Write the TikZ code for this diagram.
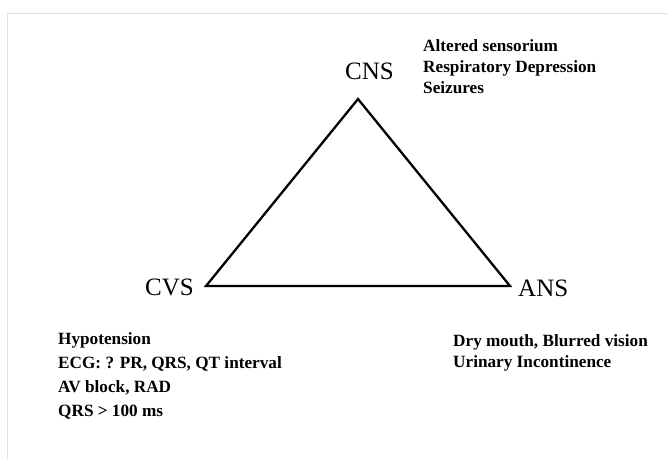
\documentclass[tikz,border=0pt]{standalone}
\usepackage{fontspec}
\setmainfont{Liberation Serif}
\begin{document}
\begin{tikzpicture}[x=1pt,y=-1pt,
  vlabel/.style={inner sep=0pt,anchor=base west,font=\fontsize{25}{29}\selectfont},
  item/.style={inner sep=0pt,anchor=base west,font=\fontsize{17.2}{21}\selectfont\bfseries},
  edge/.style={line width=2.3pt,line join=miter}]
\useasboundingbox[fill=white] (0,0) rectangle (668,459);
\draw[black!12,line width=1pt] (7,459) -- (7,13) -- (668,13);
% triangle corners
\coordinate (apex) at (358,99);
\coordinate (lv) at (206,286);
\coordinate (rv) at (510,286);
\draw[edge] (apex) -- (rv) -- (lv) -- cycle;
% vertex labels
\node[vlabel] (cns) at (345,79) {CNS};
\node[vlabel] (cvs) at (145,295) {CVS};
\node[vlabel] (ans) at (518,296) {ANS};
% CNS effects
\node[item] (c1) at (423,51) {Altered sensorium};
\node[item] (c2) at (423,72) {Respiratory Depression};
\node[item] (c3) at (423,93) {Seizures};
% CVS effects
\node[item] (v1) at (58,344) {Hypotension};
\node[item] (v2) at (58,368) {ECG: ? PR, QRS, QT interval};
\node[item] (v3) at (58,392) {AV block, RAD};
\node[item] (v4) at (58,416) {QRS > 100 ms};
% ANS effects
\node[item] (a1) at (453,346) {Dry mouth, Blurred vision};
\node[item] (a2) at (453,367) {Urinary Incontinence};
\end{tikzpicture}
\end{document}
